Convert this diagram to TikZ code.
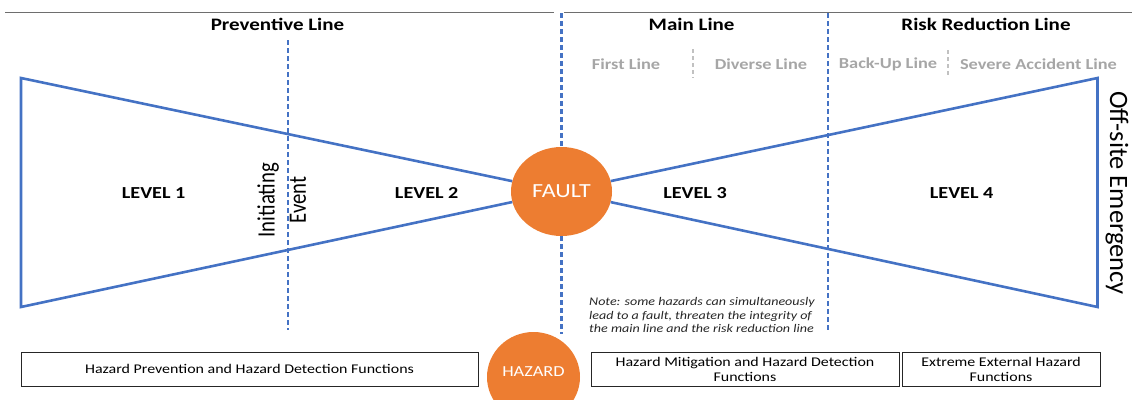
\documentclass[tikz,border=0pt]{standalone}
\usepackage{fontspec}
\setmainfont{Carlito}[FakeStretch=1.2]
\newfontfamily\rotfont{Carlito}
\usetikzlibrary{shapes.geometric}
\definecolor{lineblue}{HTML}{4472C4}
\definecolor{faultorange}{HTML}{ED7D31}
\definecolor{sublabelgray}{HTML}{A6A6A6}
\definecolor{rulegray}{HTML}{6E6E6E}
\tikzset{
  bowtie/.style={draw=lineblue, line width=2.6pt, line join=miter},
  divider/.style={draw=lineblue, line width=2.2pt, dash pattern=on 5pt off 3pt},
  subdivider/.style={draw=sublabelgray!70, line width=1.6pt, dash pattern=on 4pt off 3pt},
  toprule/.style={draw=rulegray, line width=1.2pt},
  header/.style={font=\bfseries\fontsize{17.5}{20}\selectfont, inner sep=0},
  sublabel/.style={font=\bfseries\fontsize{15.3}{17}\selectfont, text=sublabelgray, inner sep=0},
  level/.style={font=\bfseries\fontsize{16.8}{19}\selectfont, inner sep=0},
  orb/.style={ellipse, fill=faultorange, text=white, inner sep=0},
  funcbox/.style={draw=black!85, line width=1pt, align=center, inner sep=0,
    minimum height=34pt, font=\fontsize{13.3}{15}\selectfont},
  sidetext/.style={inner sep=0},
  notetext/.style={align=left, inner sep=0, text=black!85,
    font=\itshape\fontsize{11.7}{13.6}\selectfont}
}
\begin{document}
\begin{tikzpicture}[x=1pt,y=-1pt]
\useasboundingbox (0,0) rectangle (1132,399);

% top rule
\coordinate (ruleA) at (5,12.5);
\coordinate (ruleB) at (554,12.5);
\coordinate (ruleC) at (564,12.5);
\coordinate (ruleD) at (1132,12.5);
\draw[toprule] (ruleA) -- (ruleB);
\draw[toprule] (ruleC) -- (ruleD);

% headers
\node[header] (prevhdr) at (277.5,24) {Preventive Line};
\node[header] (mainhdr) at (691.6,24) {Main Line};
\node[header] (riskhdr) at (986,24) {Risk Reduction Line};

% sub labels
\node[sublabel] (first) at (626,64) {First Line};
\node[sublabel] (diverse) at (761,64) {Diverse Line};
\node[sublabel] (backup) at (888,64) {Back-Up Line};
\node[sublabel] (severe) at (1038.5,64) {Severe Accident Line};
\coordinate (sepAt) at (693,49);
\coordinate (sepAb) at (693,78);
\coordinate (sepBt) at (948,50);
\coordinate (sepBb) at (948,77);
\draw[subdivider] (sepAt) -- (sepAb);
\draw[subdivider] (sepBt) -- (sepBb);

% circles
\node[orb, minimum width=101pt, minimum height=89pt,
  font=\fontsize{20}{24}\selectfont] (fault) at (561.5,191.5) {FAULT};
\node[orb, minimum width=93pt, minimum height=90pt,
  font=\fontsize{15.3}{18}\selectfont] (hazard) at (533.5,377) {\raisebox{10pt}{HAZARD}};

% bow tie
\coordinate (TL) at (21,78);
\coordinate (BL) at (21,307);
\coordinate (TR) at (1097.5,78);
\coordinate (BR) at (1097.5,307);
\draw[bowtie] (fault) -- (TL) -- (BL) -- (fault);
\draw[bowtie] (fault) -- (TR) -- (BR) -- (fault);

% dividers
\coordinate (prevTop) at (288,40);
\coordinate (prevBot) at (288,330);
\draw[divider] (prevTop) -- (prevBot);
\coordinate (mainTop) at (561.5,13);
\coordinate (mainBot) at (561.5,334);
\draw[divider] (mainTop) -- (fault.north);
\draw[divider] (fault.south) -- (mainBot);
\coordinate (riskTop) at (827.6,13);
\coordinate (riskBot) at (827.6,332);
\draw[divider] (riskTop) -- (riskBot);

% level labels
\node[level] (lvl1) at (153.6,193) {LEVEL 1};
\node[level] (lvl2) at (426.7,193) {LEVEL 2};
\node[level] (lvl3) at (695,193) {LEVEL 3};
\node[level] (lvl4) at (961.6,193) {LEVEL 4};

% rotated texts
\node[sidetext, rotate=90] (init) at (284,200)
  {\scalebox{1}[1.2]{\rotfont\fontsize{20.8}{26}\selectfont\begin{tabular}{@{}c@{}}Initiating\\Event\end{tabular}}};
\node[sidetext, rotate=-90, font=\rotfont\fontsize{26.5}{30}\selectfont] (offsite) at (1117,193) {Off-site Emergency};

% note
\node[notetext, anchor=west] (note) at (589,315.3) {Note: some hazards can simultaneously\\lead to a fault, threaten the integrity of\\the main line and the risk reduction line};

% function boxes
\node[funcbox, minimum width=457pt] (box1) at (249.5,369) {Hazard Prevention and Hazard Detection Functions};
\node[funcbox, minimum width=308pt] (box2) at (745,369) {Hazard Mitigation and Hazard Detection\\Functions};
\node[funcbox, minimum width=198pt] (box3) at (1001,369) {Extreme External Hazard\\Functions};
\end{tikzpicture}
\end{document}
